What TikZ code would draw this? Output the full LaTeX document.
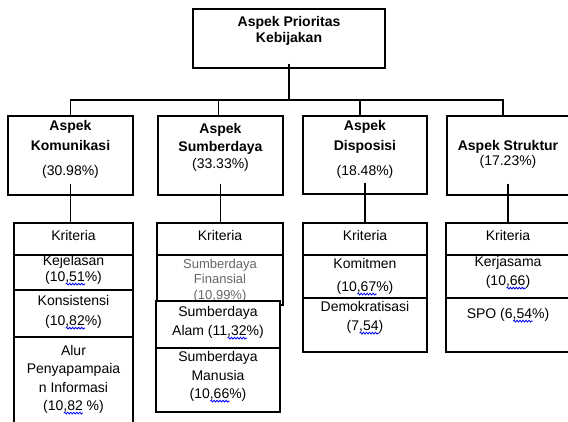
\documentclass[tikz,border=0pt]{standalone}
\usepackage{fontspec}
\setmainfont{Liberation Sans}
\usetikzlibrary{calc}
\usetikzlibrary{decorations.pathmorphing}

\newsavebox\spellbox
\newcommand\spellmark[1]{\sbox\spellbox{#1}\rlap{\raisebox{-3.8pt}[0pt][0pt]{\tikz[x=1pt,y=1pt,line width=0.8pt]\draw[blue,decorate,decoration={snake,amplitude=0.9pt,segment length=3pt}] (0,0) -- (\wd\spellbox,0);}}\usebox\spellbox}

\tikzset{
  cell/.style={draw, inner sep=0},
  txt/.style={font=\fontsize{14}{16}\selectfont, align=center, inner sep=0},
  head/.style={txt, font=\fontsize{14}{16}\selectfont\bfseries},
}

\begin{document}
\begin{tikzpicture}[x=1pt,y=-1pt,line width=1.3pt]
\useasboundingbox (0,0) rectangle (568,421);

% top level
\node[cell, minimum width=192pt, minimum height=59pt] (top) at (289,38.5) {};
\node[head] (topt) at (289,31) {Aspek Prioritas\\Kebijakan};

% aspects
\node[cell, minimum width=125pt, minimum height=79pt] (kom) at (70.5,155.5) {};
\node[cell, minimum width=125pt, minimum height=79pt] (sum) at (220.5,155.5) {};
\node[cell, minimum width=124pt, minimum height=78pt] (dis) at (365,155) {};
\node[cell, minimum width=122pt, minimum height=79pt] (str) at (508,155.5) {};
\node[head] (komt) at (70.5,149.5) {Aspek\\[4pt]Komunikasi\\[9pt]\textmd{(30.98\%)}};
\node[head] (sumt) at (220.5,147.5) {Aspek\\[2pt]Sumberdaya\\[1pt]\textmd{(33.33\%)}};
\node[head] (dist) at (365,149.5) {Aspek\\[4pt]Disposisi\\[9pt]\textmd{(18.48\%)}};
\node[head] (strt) at (508,154.5) {Aspek Struktur\\[-1pt]\textmd{(17.23\%)}};

\coordinate (bus) at (0,100);
\draw ([yshift=5pt]top.south) -- (top.south |- bus);
\draw (kom.north) -- (kom.north |- bus) -- ([xshift=-5pt]str.north |- bus) -- ([xshift=-5pt]str.north);
\draw ([xshift=-2pt]sum.north) -- ([xshift=-2pt]sum.north |- bus);
\draw ([xshift=-5pt]dis.north) -- ([xshift=-5pt]dis.north |- bus);

% criteria
\foreach \c/\x/\w in {A/73.5/119, B/220/126, C/365/124, D/508/124}{
  \node[cell, minimum width=\w pt, minimum height=32pt] (kri\c) at (\x,239) {};
  \node[txt] (krit\c) at (\x,235) {Kriteria};
}
\foreach \a/\c in {kom/A, sum/B, dis/C, str/D}
  \draw ([yshift=12pt]\a.south) -- (\a.south |- kri\c.north);

% komunikasi
\node[cell, minimum width=119pt, minimum height=35pt] (kejA) at (73.5,272.5) {};
\node[txt] (kejAt) at (73.5,270) {Kejelasan\\(10\spellmark{,51}\%)};
\node[cell, minimum width=119pt, minimum height=47pt] (konA) at (73.5,313.5) {};
\node[txt] (konAt) at (73.5,312) {Konsistensi\\[4pt](10\spellmark{,82}\%)};
\node[cell, minimum width=119pt, minimum height=93pt] (alurA) at (73.5,383.5) {};
\node[txt] (alurAt) at (73.5,379.5) {Alur\\[2.3pt]Penyapampaia\\[2.3pt]n Informasi\\[2.3pt](10\spellmark{,82}\ \%)};

% sumberdaya
\node[cell, minimum width=126pt, minimum height=50pt] (finB) at (220,280) {};
\node[txt, font=\fontsize{13}{15.5}\selectfont, text=black!60] (finBt) at (220,280.5) {Sumberdaya\\Finansial\\(10\spellmark{,99}\%)};
\node[cell, fill=white, minimum width=124pt, minimum height=47pt] (alamB) at (218,324.5) {};
\node[txt] (alamBt) at (218,322.5) {Sumberdaya\\[3pt]Alam (11\spellmark{,32}\%)};
\node[cell, minimum width=124pt, minimum height=64pt] (manB) at (218,380) {};
\node[txt] (manBt) at (218,376.5) {Sumberdaya\\[2.5pt]Manusia\\[2.5pt](10\spellmark{,66}\%)};

% disposisi
\node[cell, minimum width=124pt, minimum height=43pt] (komC) at (365,276.5) {};
\node[txt] (komCt) at (365,276.5) {Komitmen\\[7pt](10\spellmark{,67}\%)};
\node[cell, minimum width=124pt, minimum height=54pt] (demC) at (365,325) {};
\node[txt] (demCt) at (365,317.5) {Demokratisasi\\[3pt](7\spellmark{,54})};

% struktur
\node[cell, minimum width=124pt, minimum height=43pt] (kerD) at (508,276.5) {};
\node[txt] (kerDt) at (508,272.5) {Kerjasama\\[3pt](10\spellmark{,66})};
\node[cell, minimum width=124pt, minimum height=54pt] (spoD) at (508,325) {};
\node[txt] (spoDt) at (508,315) {SPO (6\spellmark{,54}\%)};
\end{tikzpicture}
\end{document}
